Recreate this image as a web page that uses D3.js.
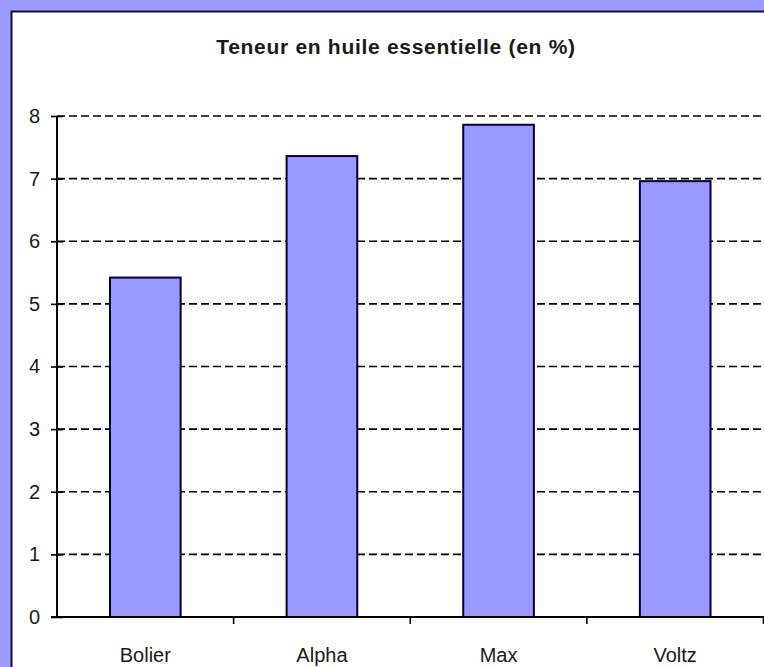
<!DOCTYPE html>
<html>
<head>
<meta charset="utf-8">
<script src="https://cdn.jsdelivr.net/npm/d3@7"></script>
<style>
    body { margin: 0; background: #9999ff; }
    svg { display: block; }
</style>
</head>
<body>
<div id="chart"></div>
<script>
const categories = ['Bolier', 'Alpha', 'Max', 'Voltz'];
const values = [5.42, 7.36, 7.86, 6.96];
const yTicks = [0, 1, 2, 3, 4, 5, 6, 7, 8];
const title = 'Teneur en huile essentielle (en %)';

let width = 764, height = 667;
let marginLeft = 57, marginRight = 0.5, marginTop = 116, marginBottom = 50;
let font = 'Arial, "Liberation Sans", sans-serif';

let $ = d3.select('#chart').append('svg')
    .attr('width', width)
    .attr('height', height)
    .attr('viewBox', [0, 0, width, height]);

// purple frame + white chart area
$.append('rect')
    .attr('width', width).attr('height', height)
    .attr('fill', '#9999ff');
$.append('rect')
    .attr('x', 11.5).attr('y', 11.5)
    .attr('width', width + 20).attr('height', height + 20)
    .attr('fill', 'white')
    .attr('stroke', '#10103a')
    .attr('stroke-width', 2);

let X = d3.scaleBand()
    .domain(categories)
    .range([marginLeft, width - marginRight])
    .paddingInner(0.6)
    .paddingOuter(0.3);
let Y = d3.scaleLinear()
    .domain([0, 8])
    .range([height - marginBottom, marginTop]);

$.append('text')
    .attr('class', 'title')
    .text(title)
    .attr('x', 396)
    .attr('y', 46)
    .attr('text-anchor', 'middle')
    .attr('dominant-baseline', 'central')
    .attr('font-family', font)
    .attr('font-weight', 'bold')
    .attr('font-size', 21)
    .attr('letter-spacing', 0.7)
    .attr('fill', '#1a1a1a');

// dashed grid
$.append('g').attr('class', 'y-grid')
    .selectAll('line').data(yTicks.filter(d => d > 0)).join('line')
    .attr('x1', marginLeft)
    .attr('x2', width)
    .attr('y1', d => Y(d))
    .attr('y2', d => Y(d))
    .attr('stroke', '#000')
    .attr('stroke-width', 1.6)
    .attr('stroke-dasharray', '8,4');

$.append('g').attr('class', 'bars')
    .selectAll('rect').data(values).join('rect')
    .attr('x', (d, i) => X(categories[i]))
    .attr('width', X.bandwidth())
    .attr('y', d => Y(d))
    .attr('height', d => Y(0) - Y(d))
    .attr('fill', '#9999ff')
    .attr('stroke', '#000033')
    .attr('stroke-width', 2);

// y axis, ticks cross the line
let yAxis = d3.axisLeft(Y).tickValues(yTicks).tickSize(0).tickPadding(17);
$.append('g').attr('class', 'y-axis')
    .attr('transform', `translate(${marginLeft},0)`)
    .call(yAxis)
    .call(g => g.select('.domain').remove())
    .call(g => g.append('line')
        .attr('y1', Y(8)).attr('y2', Y(0))
        .attr('stroke', '#000').attr('stroke-width', 2))
    .call(g => g.selectAll('.tick').append('line')
        .attr('x1', -6).attr('x2', 6)
        .attr('stroke', '#000').attr('stroke-width', 1.6));

// x axis, tick marks at band edges
let edges = categories.map(c => X(c) - X.step() * X.paddingInner() / 2 + X.step()).slice(0, -1);
edges.push(width - marginRight);
let xg = $.append('g').attr('class', 'x-axis')
    .attr('transform', `translate(0,${Y(0)})`);
xg.append('line')
    .attr('x1', marginLeft - 6).attr('x2', width)
    .attr('stroke', '#000').attr('stroke-width', 2);
xg.selectAll('line.edge').data(edges).join('line')
    .attr('class', 'edge')
    .attr('x1', d => d).attr('x2', d => d)
    .attr('y1', 0).attr('y2', 7)
    .attr('stroke', '#000').attr('stroke-width', 1.6);
xg.selectAll('text').data(categories).join('text')
    .text(d => d)
    .attr('x', d => X(d) + X.bandwidth() / 2)
    .attr('y', 38)
    .attr('text-anchor', 'middle')
    .attr('dominant-baseline', 'central')
    .attr('font-family', font)
    .attr('font-size', 20)
    .attr('fill', '#1a1a1a');

$.selectAll('.y-axis text')
    .attr('font-family', font)
    .attr('font-size', 20)
    .attr('fill', '#1a1a1a');
</script>
</body>
</html>
